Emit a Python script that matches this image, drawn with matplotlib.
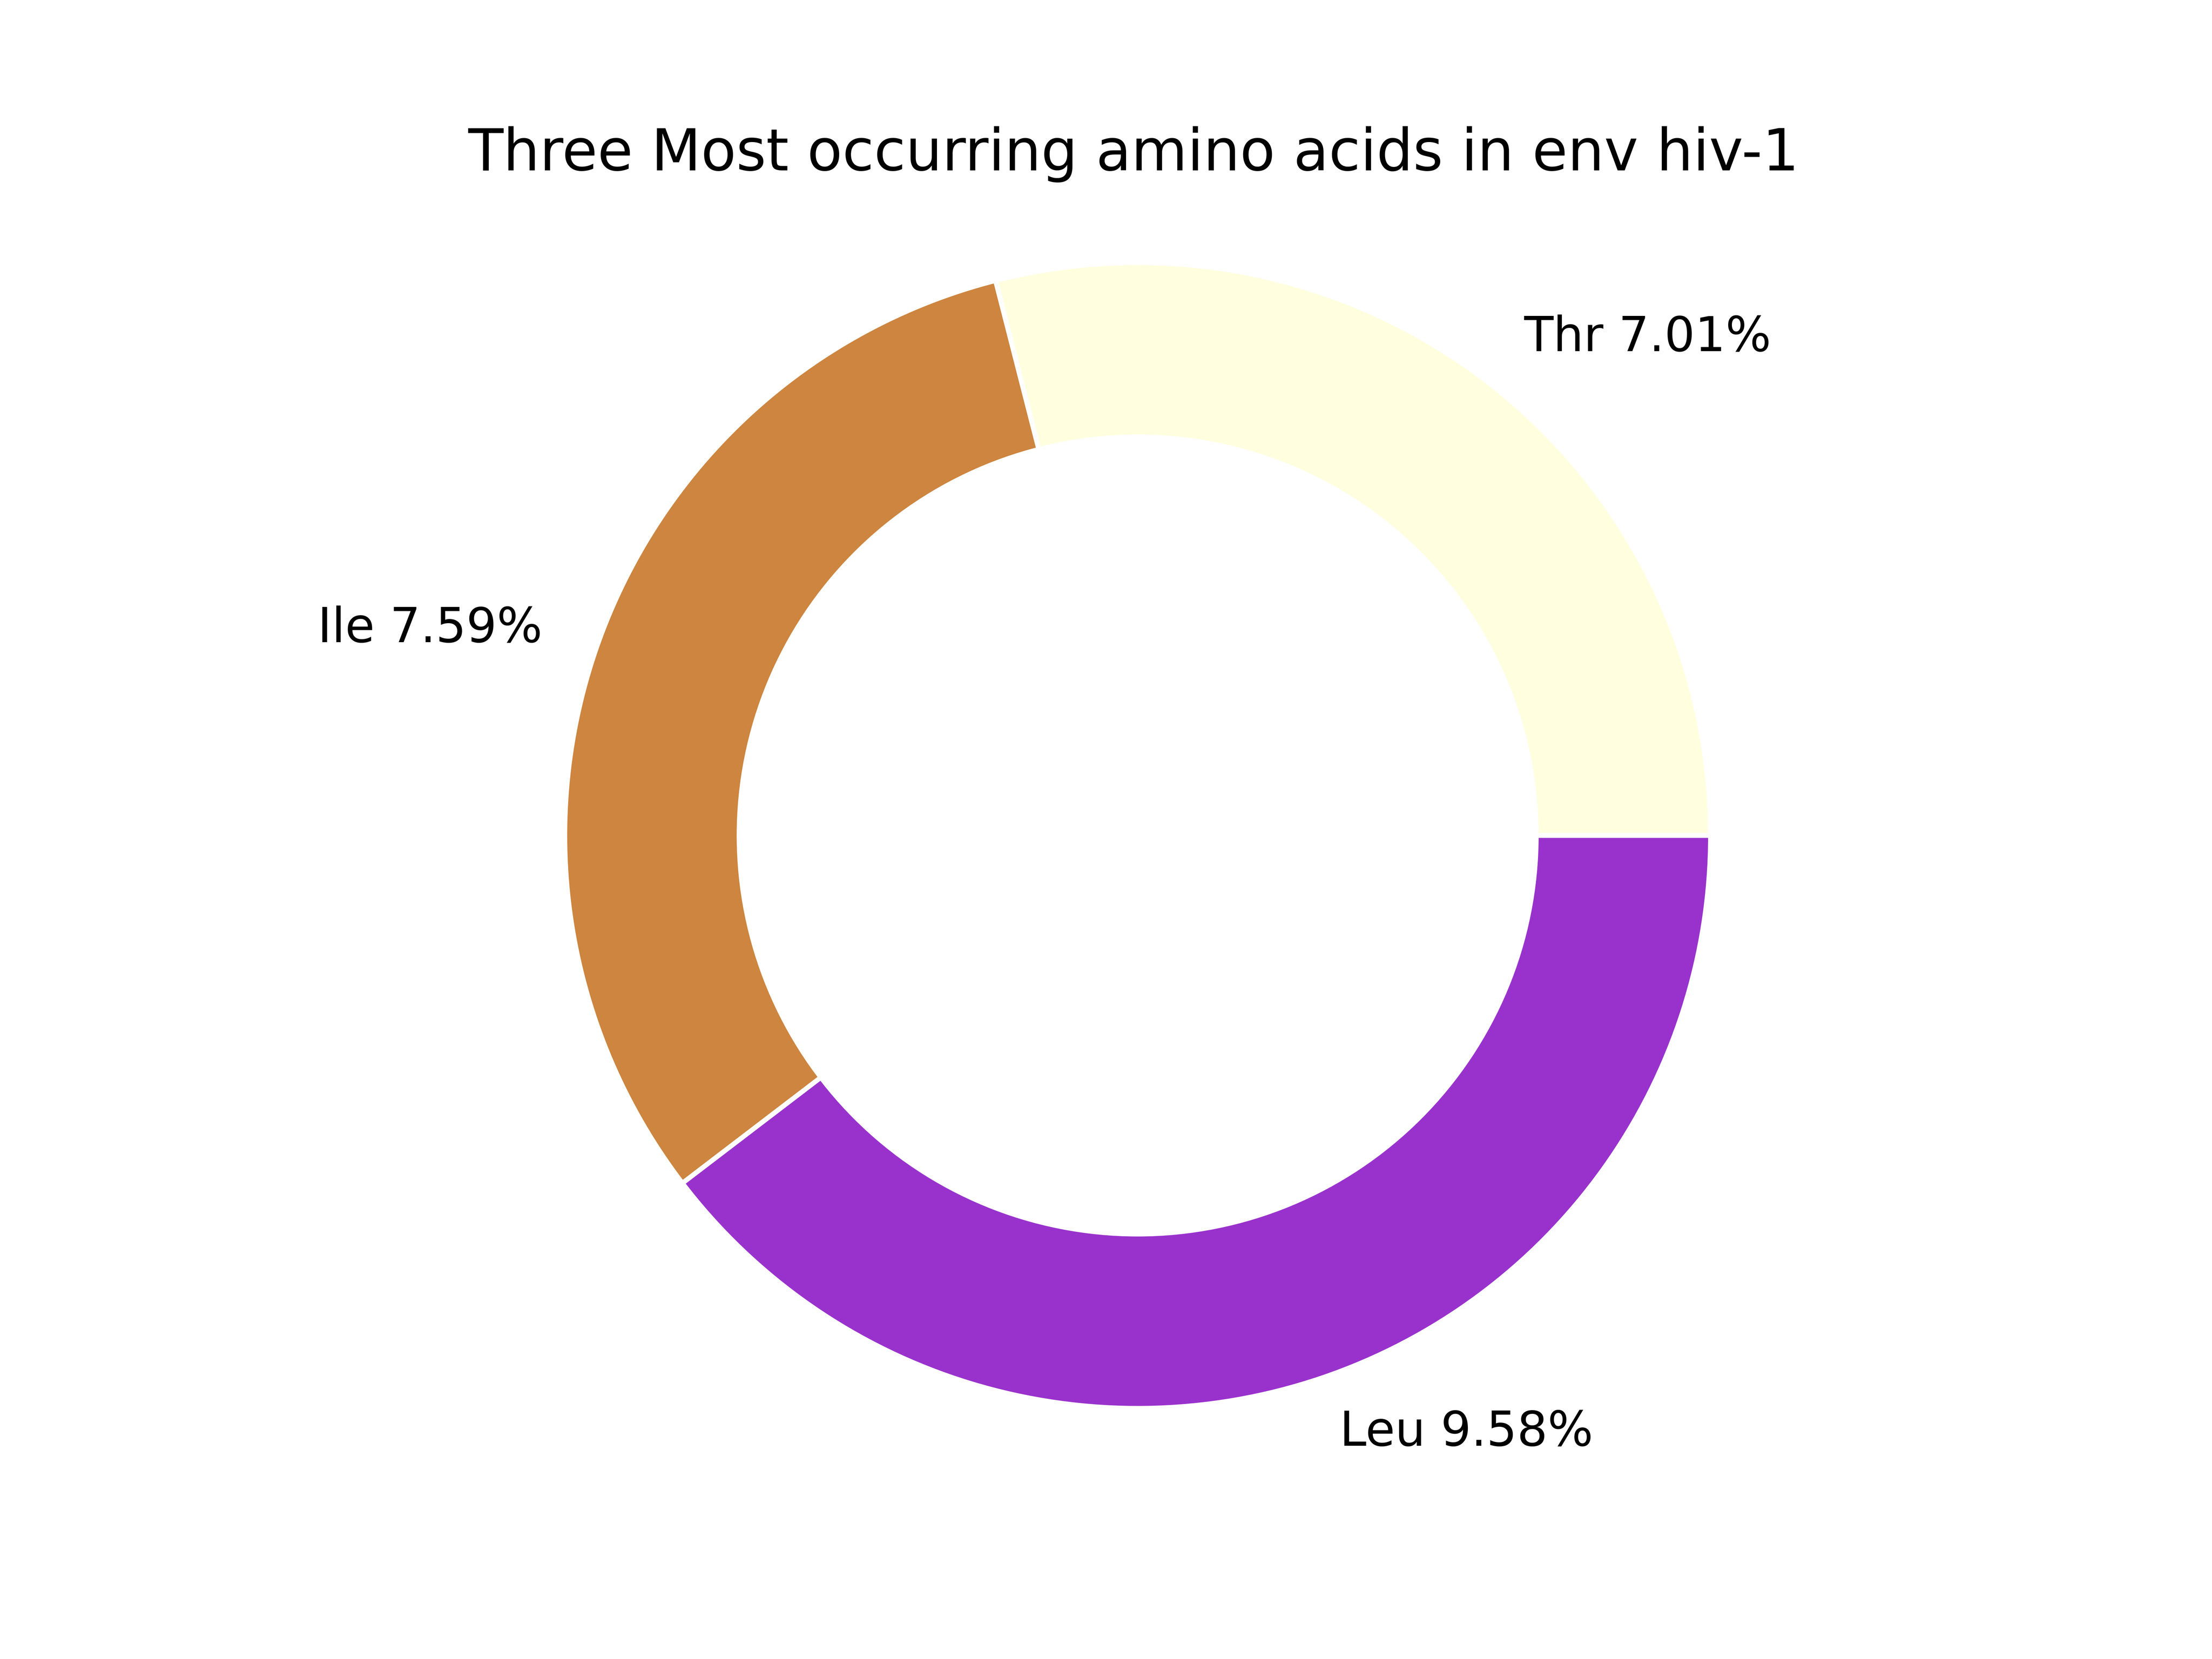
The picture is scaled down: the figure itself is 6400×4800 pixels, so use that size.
import matplotlib.pyplot as plt

names = ['Thr', 'Ile', 'Leu']
percent = [7.01, 7.59, 9.58]
colors = ['lightyellow', 'peru', 'darkorchid']

labels = [n + ' ' + str(p) + '%' for n, p in zip(names, percent)]

fig = plt.figure(figsize=(6.4, 4.8), dpi=1000)
ax = fig.gca()
ax.pie(percent, labels=labels, colors=colors,
       wedgeprops={'linewidth': 1, 'edgecolor': 'white'})
centre = plt.Circle((0, 0), 0.70, fc='white')
ax.add_artist(centre)
ax.set_xlim(-1.122, 1.108)
ax.set_ylim(-1.119, 1.111)
plt.title('Three Most occurring amino acids in env hiv-1', fontsize=12)

plt.savefig('out.png', dpi=1000)
